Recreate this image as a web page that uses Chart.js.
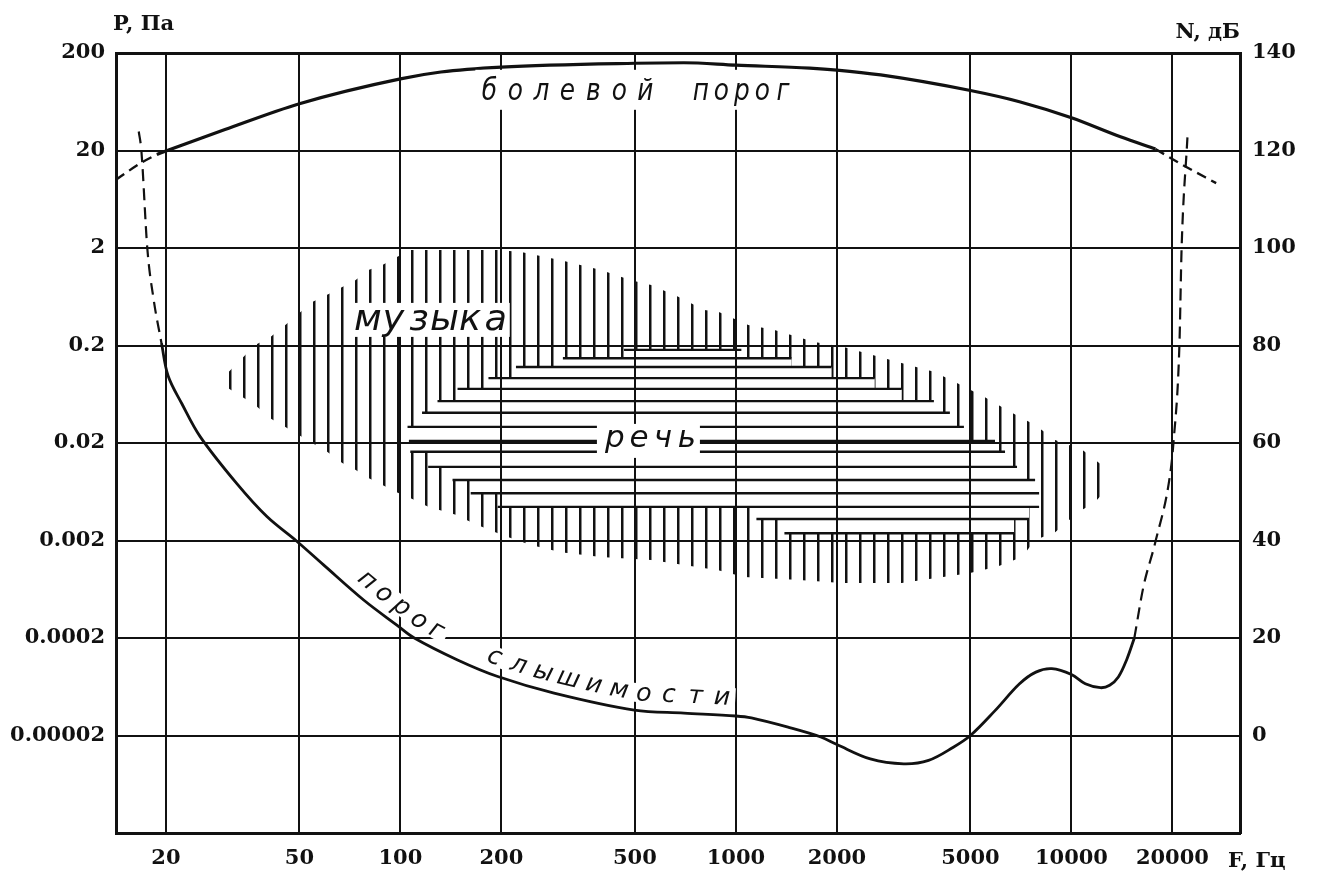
<!DOCTYPE html>
<html>
<head>
<meta charset="utf-8">
<title>Область слышимости</title>
<script src="https://cdn.jsdelivr.net/npm/chart.js@4.4.1/dist/chart.umd.min.js"></script>
<style>
html, body { margin: 0; padding: 0; background: #fff; }
#c { display: block; }
</style>
</head>
<body>
<canvas id="c" width="1318" height="872"></canvas>
<script>
// ---------------- data ----------------
const freqTicks  = [20, 50, 100, 200, 500, 1000, 2000, 5000, 10000, 20000];
const freqLabels = ['20', '50', '100', '200', '500', '1000', '2000', '5000', '10000', '20000'];
const levelTicks = [-20, 0, 20, 40, 60, 80, 100, 120, 140];
const levelLabels = ['', '0', '20', '40', '60', '80', '100', '120', '140'];
const pressureLabels = ['', '0.00002', '0.0002', '0.002', '0.02', '0.2', '2', '20', '200'];
const freqMin = 14.2, freqMax = 31800;
const levelMin = -20, levelMax = 140;

const titleP = 'P, Па';
const titleN = 'N, дБ';
const titleF = 'F, Гц';

// pain threshold (болевой порог)
const painFreq  = [18.8, 20, 30, 50, 100, 132, 200, 500, 700, 1000, 1660, 2000, 2700, 5000, 7000, 10000, 14000, 17800];
const painLevel = [119.2, 119.9, 124.3, 129.6, 134.7, 136.1, 137.1, 137.9, 138.0, 137.5, 136.9, 136.5, 135.5, 132.3, 130.0, 126.7, 122.8, 120.3];
const painDashLeftFreq   = [14.2, 16.8, 18.8];
const painDashLeftLevel  = [114.0, 117.4, 119.2];
const painDashRightFreq  = [17800, 21500, 27000];
const painDashRightLevel = [120.3, 117.0, 113.3];

// hearing threshold (порог слышимости)
const hearFreq  = [19.4, 20.3, 22.3, 25.3, 32.5, 40, 49.2, 59, 77.7, 97.8, 110, 148, 195, 287, 498, 700, 1000, 1112, 1430, 1790, 2000, 2515, 3162, 3751, 4446, 5000, 5919, 7003, 7835, 8740, 10000, 11000, 12200, 13000, 13800, 14600, 15400];
const hearLevel = [80.5, 73.8, 68.1, 61.3, 51.7, 44.9, 39.8, 35.0, 27.8, 22.6, 20.0, 15.5, 12.1, 8.7, 5.2, 4.6, 4.0, 3.6, 1.7, -0.3, -1.85, -4.8, -5.8, -5.1, -2.4, 0, 5.1, 10.6, 13.0, 13.7, 12.5, 10.6, 9.8, 10.3, 12.0, 15.5, 20.0];
const hearDashLeftFreq   = [16.6, 16.9, 17.6, 18.4, 19.4];
const hearDashLeftLevel  = [123.9, 120, 100, 89.3, 80.5];
const hearDashRightFreq  = [15400, 16390, 17760, 19690, 20140, 20980, 21300, 22170];
const hearDashRightLevel = [20.0, 30.5, 39.5, 53.6, 60.0, 80.0, 100.0, 122.7];

// music area (музыка) outline
const musicTopFreq  = [30.6, 36.9, 40.9, 45.4, 54.6, 60.5, 67.1, 73.4, 80.3, 88.4, 96.7, 107, 195, 229, 301, 396, 487, 559, 673, 805, 886, 1089, 1303, 1715, 2094, 2539, 3274, 3891, 4558, 5523, 6560, 7792, 8942, 10768, 12526];
const musicTopLevel = [74.4, 80.1, 81.7, 84.2, 88.9, 90.4, 92.0, 93.4, 95.5, 96.5, 98.0, 99.6, 99.6, 99.2, 97.5, 95.5, 93.4, 92.4, 90.0, 87.3, 86.9, 84.2, 83.2, 80.7, 79.7, 78.1, 76.0, 74.6, 72.3, 69.4, 66.4, 63.7, 60.6, 58.6, 55.1];
const musicBottomFreq  = [30.6, 36.9, 40.9, 45.4, 54.6, 60.5, 67.1, 73.4, 80.3, 88.4, 96.7, 107, 121, 148, 164, 202, 245, 301, 396, 559, 886, 1060, 1547, 2066, 3121, 4948, 6000, 7124, 7792, 8942, 9846, 10768, 11696, 12526];
const musicBottomLevel = [71.3, 67.8, 65.1, 63.3, 60.0, 58.2, 55.9, 54.5, 52.8, 51.4, 50.0, 48.7, 46.9, 45.2, 43.6, 41.1, 39.1, 37.6, 36.6, 36.0, 33.9, 32.5, 31.9, 31.3, 31.3, 33.3, 34.6, 36.6, 40.1, 41.7, 44.2, 46.3, 47.7, 50.0];

// speech area (речь): horizontal hatch lines
const speechLevel = [79.1, 77.4, 75.6, 73.3, 71.1, 68.6, 66.2, 63.3, 60.4, 58.2, 55.1, 52.4, 49.7, 46.9, 44.4, 41.5];
const speechFrom  = [464, 305, 221, 183, 148, 129, 116, 105, 106, 107, 121, 143, 162, 195, 1151, 1395];
const speechTo    = [1038, 1464, 1928, 2592, 3121, 3891, 4342, 4781, 5918, 6340, 6884, 7792, 8010, 8010, 7476, 6746];

// text labels
const painWords = ['болевой', 'порог'];
const painWordFreq = [314.5, 1042];
const painWordLevel = 130.4;
const painWordPitch = [26, 20.5];
const musicWord = 'музыка', musicWordFreq = 124, musicWordLevel = 83.2, musicWordPitch = 25.6;
const speechWord = 'речь', speechWordFreq = 558, speechWordLevel = 59.2, speechWordPitch = 24;
const hearWords = ['порог', 'слышимости'];
const hearWordStartFreq = [73.7, 183];
const hearWordPitch = [22.4, 26.4];

// ---------------- build ----------------
const INK = '#111';
const SERIF = '"DejaVu Serif", "Liberation Serif", serif';
const SANS = '"DejaVu Sans", "Liberation Sans", sans-serif';
const pts = (fs, ls) => fs.map((f, i) => ({x: f, y: ls[i]}));

const speechSegments = [];
speechLevel.forEach((L, i) => {
  speechSegments.push({x: speechFrom[i], y: L}, {x: speechTo[i], y: L}, {x: speechTo[i], y: null});
});

const nS = speechLevel.length;
const tipL = speechFrom.indexOf(Math.min(...speechFrom));
const tipR = speechTo.indexOf(Math.max(...speechTo));
const speechTop = [];
for (let k = tipL; k >= 1; k--) {
  speechTop.push({x: speechFrom[k], y: speechLevel[k]}, {x: speechFrom[k - 1], y: speechLevel[k]});
}
speechTop.push({x: speechFrom[0], y: speechLevel[0]}, {x: speechTo[0], y: speechLevel[0]});
for (let k = 1; k <= tipR; k++) {
  speechTop.push({x: speechTo[k - 1], y: speechLevel[k]}, {x: speechTo[k], y: speechLevel[k]});
}
const speechBottom = [{x: speechFrom[tipL], y: speechLevel[tipL + 1]}];
for (let k = tipL + 1; k <= nS - 2; k++) {
  speechBottom.push({x: speechFrom[k], y: speechLevel[k]}, {x: speechFrom[k + 1], y: speechLevel[k]});
}
speechBottom.push({x: speechFrom[nS - 1], y: speechLevel[nS - 1]}, {x: speechTo[nS - 1], y: speechLevel[nS - 1]});
for (let k = nS - 2; k >= tipR + 1; k--) {
  speechBottom.push({x: speechTo[k + 1], y: speechLevel[k]}, {x: speechTo[k], y: speechLevel[k]});
}

const canvas = document.getElementById('c');
const mainCtx = canvas.getContext('2d');
const musicPattern = (() => {
  const pc = document.createElement('canvas');
  pc.width = 14; pc.height = 8;
  const g = pc.getContext('2d');
  g.fillStyle = INK; g.fillRect(5, 0, 2, 8);
  g.fillStyle = 'rgba(17,17,17,0.5)'; g.fillRect(7, 0, 1, 8);
  return mainCtx.createPattern(pc, 'repeat');
})();

// ---------------- text helpers ----------------
function spacedWord(ctx, text, cx, baseY, pitch, font, sx, bg) {
  const n = text.length;
  const first = cx - (n - 1) * pitch / 2;
  if (bg) {
    ctx.fillStyle = '#fff';
    ctx.fillRect(first - bg[0], baseY - bg[1], (n - 1) * pitch + bg[0] + bg[2], bg[1] + bg[3]);
  }
  ctx.fillStyle = INK;
  ctx.font = font;
  ctx.textAlign = 'center';
  ctx.textBaseline = 'alphabetic';
  for (let i = 0; i < n; i++) {
    ctx.save();
    ctx.translate(first + i * pitch, baseY);
    ctx.scale(sx, 1);
    ctx.fillText(text[i], 0, 0);
    ctx.restore();
  }
}

function sampleCurve(meta) {
  const p = meta.data, out = [];
  for (let i = 0; i < p.length - 1; i++) {
    const a = p[i], b = p[i + 1];
    const c1x = a.cp2x ?? a.x, c1y = a.cp2y ?? a.y, c2x = b.cp1x ?? b.x, c2y = b.cp1y ?? b.y;
    for (let k = 0; k < 24; k++) {
      const t = k / 24, u = 1 - t;
      out.push({
        x: u * u * u * a.x + 3 * u * u * t * c1x + 3 * u * t * t * c2x + t * t * t * b.x,
        y: u * u * u * a.y + 3 * u * u * t * c1y + 3 * u * t * t * c2y + t * t * t * b.y
      });
    }
  }
  out.push({x: p[p.length - 1].x, y: p[p.length - 1].y});
  return out;
}

function textOnCurve(ctx, poly, word, startX, pitch, off, font, sx, xh) {
  const cum = [0];
  for (let i = 1; i < poly.length; i++) cum.push(cum[i - 1] + Math.hypot(poly[i].x - poly[i - 1].x, poly[i].y - poly[i - 1].y));
  const at = (s) => {
    let j = 0;
    while (j < cum.length - 2 && cum[j + 1] < s) j++;
    const L = (cum[j + 1] - cum[j]) || 1, t = (s - cum[j]) / L;
    return {x: poly[j].x + (poly[j + 1].x - poly[j].x) * t, y: poly[j].y + (poly[j + 1].y - poly[j].y) * t};
  };
  let s0 = 0;
  for (let i = 1; i < poly.length; i++) {
    if (poly[i].x >= startX) {
      const t = (startX - poly[i - 1].x) / ((poly[i].x - poly[i - 1].x) || 1);
      s0 = cum[i - 1] + (cum[i] - cum[i - 1]) * t;
      break;
    }
  }
  const places = [];
  for (let i = 0; i < word.length; i++) {
    const s = s0 + i * pitch;
    const p = at(s), pa = at(s - 10), pb = at(s + 10);
    const ang = Math.atan2(pb.y - pa.y, pb.x - pa.x);
    places.push({x: p.x + Math.sin(ang) * off, y: p.y - Math.cos(ang) * off, ang});
  }
  ctx.fillStyle = '#fff';
  places.forEach((q) => {
    ctx.save(); ctx.translate(q.x, q.y); ctx.rotate(q.ang);
    ctx.fillRect(-pitch / 2, -xh - 4, pitch, xh + 6);
    ctx.restore();
  });
  ctx.fillStyle = INK; ctx.font = font; ctx.textAlign = 'center'; ctx.textBaseline = 'alphabetic';
  places.forEach((q, i) => {
    ctx.save(); ctx.translate(q.x, q.y); ctx.rotate(q.ang); ctx.scale(sx, 1);
    ctx.fillText(word[i], 0, 0);
    ctx.restore();
  });
}

const textPlugin = {
  id: 'texts',
  afterDraw(chart) {
    const ctx = chart.ctx, xs = chart.scales.x, ys = chart.scales.y, ca = chart.chartArea;
    ctx.save();
    // axis titles
    ctx.fillStyle = INK;
    ctx.font = 'bold 21px ' + SERIF;
    ctx.textBaseline = 'alphabetic';
    ctx.textAlign = 'left';  ctx.fillText(titleP, ca.left - 3, ca.top - 23);
    ctx.textAlign = 'right'; ctx.fillText(titleN, ca.right, ca.top - 15);
    ctx.textAlign = 'left';  ctx.fillText(titleF, ca.right - 12, ca.bottom + 34);

    // pain threshold label
    painWords.forEach((w, i) => {
      spacedWord(ctx, w, xs.getPixelForValue(painWordFreq[i]), ys.getPixelForValue(painWordLevel),
        painWordPitch[i], 'italic 31px ' + SANS, 0.8, [14, 30, 13, 10]);
    });
    // music / speech labels
    spacedWord(ctx, musicWord, xs.getPixelForValue(musicWordFreq), ys.getPixelForValue(musicWordLevel),
      musicWordPitch, 'italic 35px ' + SANS, 1.05, [18, 27, 14, 7]);
    spacedWord(ctx, speechWord, xs.getPixelForValue(speechWordFreq), ys.getPixelForValue(speechWordLevel),
      speechWordPitch, 'italic 31px ' + SANS, 1.0, [18, 23, 13, 11]);

    // hearing threshold label along the curve
    const poly = sampleCurve(chart.getDatasetMeta(3));
    hearWords.forEach((w, i) => {
      textOnCurve(ctx, poly, w, xs.getPixelForValue(hearWordStartFreq[i]), hearWordPitch[i], 10.5,
        'italic 25px ' + SANS, 1.0, 13);
    });
    ctx.restore();
  }
};

// ---------------- chart ----------------
const base = {pointRadius: 0, pointHoverRadius: 0, borderColor: INK, fill: false, tension: 0};
const tickFont = {family: SERIF, weight: 'bold', size: 21};

new Chart(mainCtx, {
  type: 'line',
  data: {
    datasets: [
      {...base, data: pts(painFreq, painLevel), borderWidth: 3.2, cubicInterpolationMode: 'monotone'},
      {...base, data: pts(painDashLeftFreq, painDashLeftLevel), borderWidth: 2.4, borderDash: [10, 6], cubicInterpolationMode: 'monotone'},
      {...base, data: pts(painDashRightFreq, painDashRightLevel), borderWidth: 2.4, borderDash: [10, 6], cubicInterpolationMode: 'monotone'},
      {...base, data: pts(hearFreq, hearLevel), borderWidth: 2.8, tension: 0.35},
      {...base, data: pts(hearDashLeftFreq, hearDashLeftLevel), borderWidth: 2.2, borderDash: [12, 7], cubicInterpolationMode: 'monotone'},
      {...base, data: pts(hearDashRightFreq, hearDashRightLevel), borderWidth: 2.2, borderDash: [12, 7], cubicInterpolationMode: 'monotone'},
      {...base, data: speechSegments, borderWidth: 2.4},
      {...base, data: speechTop, borderWidth: 0, borderColor: 'rgba(0,0,0,0)', fill: '+1', backgroundColor: '#fff'},
      {...base, data: speechBottom, borderWidth: 0, borderColor: 'rgba(0,0,0,0)'},
      {...base, data: pts(musicTopFreq, musicTopLevel), borderWidth: 0, borderColor: 'rgba(0,0,0,0)', fill: '+1', backgroundColor: musicPattern},
      {...base, data: pts(musicBottomFreq, musicBottomLevel), borderWidth: 0, borderColor: 'rgba(0,0,0,0)'}
    ]
  },
  options: {
    responsive: false,
    animation: false,
    devicePixelRatio: 1,
    events: [],
    layout: {padding: {top: 53, left: 0, right: 0, bottom: 0}},
    plugins: {legend: {display: false}, tooltip: {enabled: false}},
    scales: {
      x: {
        type: 'logarithmic', position: 'bottom', min: freqMin, max: freqMax,
        afterBuildTicks: (s) => { s.ticks = freqTicks.map((v) => ({value: v})); },
        afterFit: (s) => { s.height = 39; },
        ticks: {
          callback: (v) => freqLabels[freqTicks.indexOf(v)],
          autoSkip: false, maxRotation: 0, minRotation: 0, padding: 13, color: INK, font: tickFont
        },
        grid: {color: INK, lineWidth: 2, drawTicks: false, z: 1},
        border: {display: true, color: INK, width: 3, z: 1}
      },
      y: {
        type: 'linear', position: 'left', min: levelMin, max: levelMax,
        afterBuildTicks: (s) => { s.ticks = levelTicks.map((v) => ({value: v})); },
        afterFit: (s) => { s.width = 116; },
        ticks: {
          callback: (v) => pressureLabels[levelTicks.indexOf(v)],
          padding: 11, color: INK, font: tickFont
        },
        grid: {color: INK, lineWidth: (c) => (c.tick && c.tick.value === levelMax) ? 3 : 2, drawTicks: false, z: 1},
        border: {display: true, color: INK, width: 3, z: 1}
      },
      y2: {
        type: 'linear', position: 'right', min: levelMin, max: levelMax,
        afterBuildTicks: (s) => { s.ticks = levelTicks.map((v) => ({value: v})); },
        afterFit: (s) => { s.width = 78; },
        ticks: {
          callback: (v) => levelLabels[levelTicks.indexOf(v)],
          padding: 12, color: INK, font: tickFont
        },
        grid: {display: false, drawTicks: false},
        border: {display: true, color: INK, width: 3}
      }
    }
  },
  plugins: [textPlugin]
});
</script>
</body>
</html>
